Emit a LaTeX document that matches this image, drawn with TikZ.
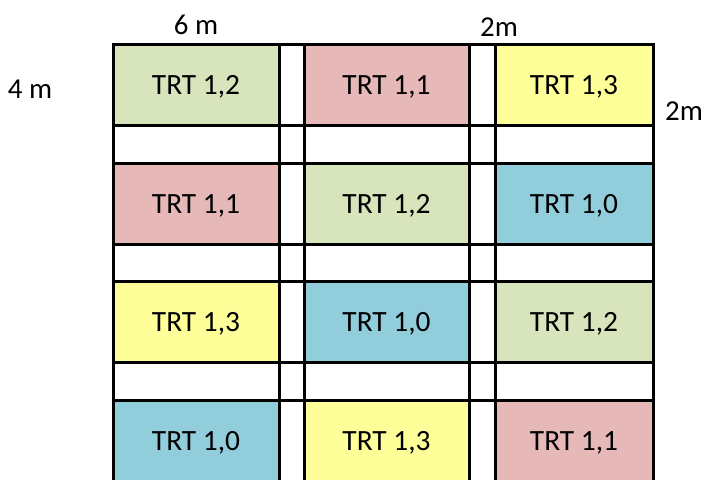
\documentclass[tikz,border=0pt]{standalone}
\usepackage{fontspec}
\setmainfont{Carlito}
\definecolor{trtgreen}{HTML}{D8E4BC}
\definecolor{trtpink}{HTML}{E6B8B7}
\definecolor{trtyellow}{HTML}{FFFF99}
\definecolor{trtblue}{HTML}{92CDDC}
\tikzset{
  plot/.style={draw=none, inner sep=0pt, font=\fontsize{29.5}{31}\selectfont},
  dim/.style={inner sep=0pt, font=\fontsize{29}{31}\selectfont},
  gridline/.style={line width=3bp, line cap=rect}
}
\begin{document}
\begin{tikzpicture}[x=1bp, y=-1bp]
\useasboundingbox (0,0) rectangle (704,480);
\begin{scope}
\clip (0,0) rectangle (704,480);
% column spans and row spans of the plots
\def\xa{113}\def\xb{279}\def\xc{304}\def\xd{469}\def\xe{495}\def\xf{653}
\def\ya{45}\def\yb{125.5}\def\yc{163.3}\def\yd{244.7}\def\ye{281.7}\def\yf{362.3}\def\yg{400.7}\def\yh{482}
% plot fills
\foreach \r/\ytop/\ybot/\ca/\cb/\cc in {
  1/\ya/\yb/trtgreen/trtpink/trtyellow,
  2/\yc/\yd/trtpink/trtgreen/trtblue,
  3/\ye/\yf/trtyellow/trtblue/trtgreen,
  4/\yg/\yh/trtblue/trtyellow/trtpink}{
  \fill[\ca] (\xa,\ytop) rectangle (\xb,\ybot);
  \fill[\cb] (\xc,\ytop) rectangle (\xd,\ybot);
  \fill[\cc] (\xe,\ytop) rectangle (\xf,\ybot);
}
% treatment labels
\node[plot] (p11) at (196,86.5) {TRT 1,2};
\node[plot] (p12) at (386.5,86.5) {TRT 1,1};
\node[plot] (p13) at (574,86.5) {TRT 1,3};
\node[plot] (p21) at (196,205.5) {TRT 1,1};
\node[plot] (p22) at (386.5,205.5) {TRT 1,2};
\node[plot] (p23) at (574,205.5) {TRT 1,0};
\node[plot] (p31) at (196,323.5) {TRT 1,3};
\node[plot] (p32) at (386.5,323.5) {TRT 1,0};
\node[plot] (p33) at (574,323.5) {TRT 1,2};
\node[plot] (p41) at (196,442.5) {TRT 1,0};
\node[plot] (p42) at (386.5,442.5) {TRT 1,3};
\node[plot] (p43) at (574,442.5) {TRT 1,1};
% grid lines
\foreach \x in {\xa,\xb,\xc,\xd,\xe,\xf}
  \draw[gridline] (\x,\ya) -- (\x,\yh);
\foreach \y in {\ya,\yb,\yc,\yd,\ye,\yf,\yg,\yh}
  \draw[gridline] (\xa,\y) -- (\xf,\y);
\end{scope}
% dimensions
\node[dim] (w6) at (196,25) {6 m};
\node[dim] (w2) at (499,27) {2m};
\node[dim] (h4) at (30,89) {4 m};
\node[dim] (h2) at (684,111) {2m};
\end{tikzpicture}
\end{document}
